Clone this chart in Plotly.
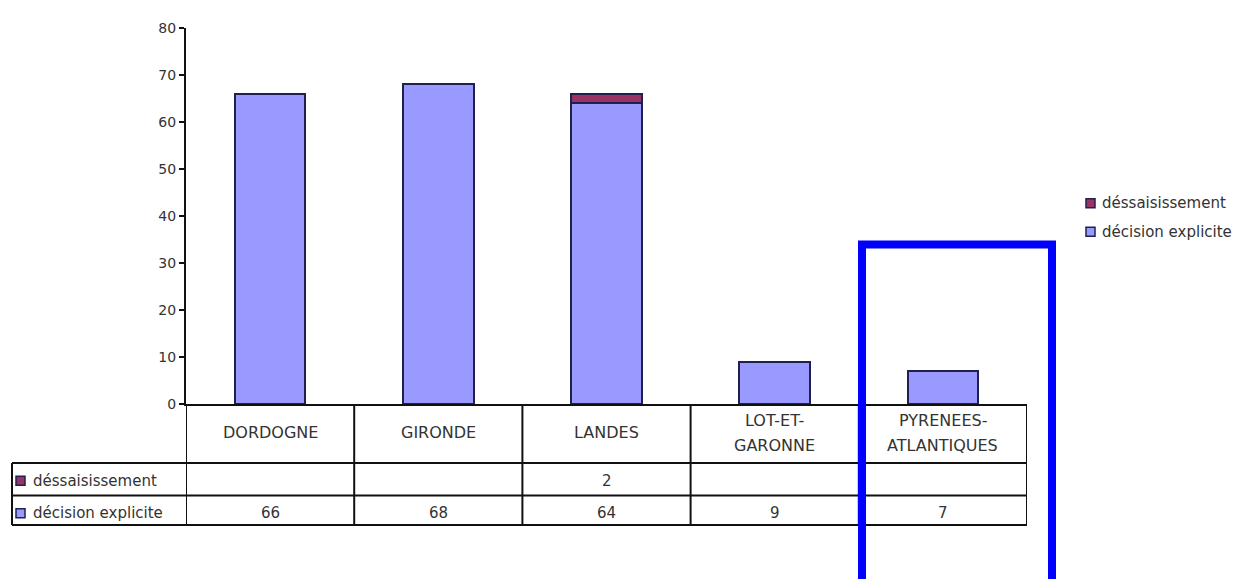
import plotly.graph_objects as go

# ---- data ----
categories = ["DORDOGNE", "GIRONDE", "LANDES", "LOT-ET-\nGARONNE", "PYRENEES-\nATLANTIQUES"]
decision_explicite = [66, 68, 64, 9, 7]
dessaisissement = [None, None, 2, None, None]
series_names = ["déssaisissement", "décision explicite"]
y_ticks = [0, 10, 20, 30, 40, 50, 60, 70, 80]

# ---- style ----
OFF = 8                                   # page body margin
W, H = 1247 - OFF, 579 - OFF
L, R, T, B = 186, 1027, 22, 404           # plot area in page pixels
COL_DEC = "#9999FF"
COL_DES = "#993366"
EDGE = "#202050"
TXT = "#333333"
FONT = "DejaVu Sans"


def px(xp):
    return (xp - L) / (R - L)


def py(yp):
    return (B - yp) / (B - T)


x_idx = list(range(len(categories)))

fig = go.Figure()
fig.add_bar(x=x_idx, y=decision_explicite, name=series_names[1], width=0.42,
            marker=dict(color=COL_DEC, line=dict(color=EDGE, width=2)), showlegend=False)
fig.add_bar(x=x_idx, y=dessaisissement, name=series_names[0], width=0.42,
            marker=dict(color=COL_DES, line=dict(color=EDGE, width=2)), showlegend=False)

shapes = []
annotations = []
line = dict(color="#111111", width=2)

# table grid
for yl in [464, 497, 527]:
    shapes.append(dict(type="line", xref="paper", yref="paper", x0=px(12), x1=px(R),
                       y0=py(yl), y1=py(yl), line=line))
shapes.append(dict(type="line", xref="paper", yref="paper", x0=px(12), x1=px(12),
                   y0=py(464), y1=py(527), line=line))
for i in range(len(categories) + 1):
    shapes.append(dict(type="line", xref="x", yref="paper", x0=i - 0.5, x1=i - 0.5,
                       y0=0, y1=py(527), line=line))

# header labels
for i, cat in enumerate(categories):
    parts = cat.split("\n")
    ys = [433] if len(parts) == 1 else [421, 446]
    for part, yy in zip(parts, ys):
        annotations.append(dict(x=i, y=py(yy), xref="x", yref="paper", text=part,
                                showarrow=False, font=dict(size=16, color=TXT, family=FONT),
                                xanchor="center", yanchor="middle"))

# table rows
rows = [(series_names[0], dessaisissement, COL_DES, 482),
        (series_names[1], decision_explicite, COL_DEC, 515)]
for name, vals, col, yc in rows:
    shapes.append(dict(type="rect", xref="paper", yref="paper", x0=px(16), x1=px(25),
                       y0=py(yc - 4.5), y1=py(yc + 4.5), fillcolor=col,
                       line=dict(color=EDGE, width=1.5)))
    annotations.append(dict(x=px(31), y=py(yc), xref="paper", yref="paper", text=name,
                            showarrow=False, font=dict(size=15, color=TXT, family=FONT),
                            xanchor="left", yanchor="middle"))
    for i, v in enumerate(vals):
        if v is not None:
            annotations.append(dict(x=i, y=py(yc), xref="x", yref="paper", text=str(v),
                                    showarrow=False, font=dict(size=15, color=TXT, family=FONT),
                                    xanchor="center", yanchor="middle"))

# right legend
for name, col, yc in [(series_names[0], COL_DES, 200), (series_names[1], COL_DEC, 229)]:
    shapes.append(dict(type="rect", xref="paper", yref="paper", x0=px(1086), x1=px(1095),
                       y0=py(yc - 4.5), y1=py(yc + 4.5), fillcolor=col,
                       line=dict(color=EDGE, width=1.5)))
    annotations.append(dict(x=px(1100), y=py(yc), xref="paper", yref="paper", text=name,
                            showarrow=False, font=dict(size=15, color=TXT, family=FONT),
                            xanchor="left", yanchor="middle"))

# blue highlight rectangle
shapes.append(dict(type="rect", xref="paper", yref="paper", x0=px(862), x1=px(1052),
                   y0=py(242), y1=py(600), line=dict(color="#0000FF", width=8),
                   fillcolor="rgba(0,0,0,0)"))

fig.update_layout(
    width=W, height=H, autosize=False,
    margin=dict(l=L - OFF, r=W - (R - OFF), t=T - OFF, b=H - (B - OFF), pad=0),
    barmode="stack", bargap=0.58,
    plot_bgcolor="white", paper_bgcolor="white",
    font=dict(family=FONT, color=TXT, size=14),
    shapes=shapes, annotations=annotations,
    showlegend=False,
)
fig.update_xaxes(range=[-0.5, len(categories) - 0.5], showticklabels=False, showgrid=False,
                 zeroline=False, showline=True, linecolor="#111111", linewidth=2, ticks="")
fig.update_yaxes(range=[0, 80], tickvals=y_ticks, showgrid=False, zeroline=False,
                 showline=True, linecolor="#111111", linewidth=2, ticks="outside",
                 ticklen=5, tickcolor="#111111", tickwidth=1.5,
                 tickfont=dict(size=14, color=TXT, family=FONT))

fig.write_html("out.html")
